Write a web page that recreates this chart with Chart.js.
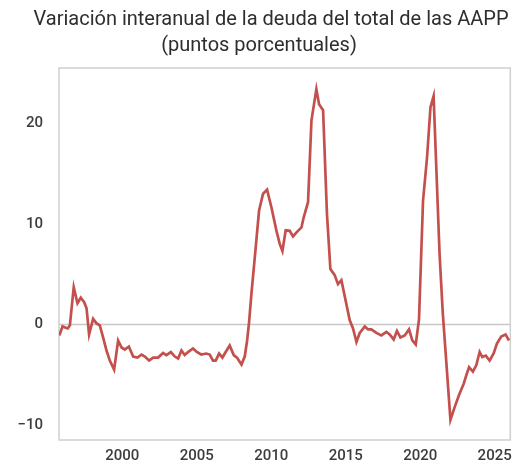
<!DOCTYPE html>
<html>
<head>
<meta charset="utf-8">
<script src="https://cdn.jsdelivr.net/npm/chart.js@4/dist/chart.umd.min.js"></script>
<style>
html,body{margin:0;padding:0;background:#fff;}
#wrap{width:519px;height:468px;position:relative;}
</style>
</head>
<body>
<div id="wrap"><canvas id="c" width="519" height="468"></canvas></div>
<script>
const titleLines = ["Variación interanual de la deuda del total de las AAPP", "(puntos porcentuales)"];
const years = [1995.77,1995.99,1996.16,1996.34,1996.48,1996.74,1996.99,1997.21,1997.44,1997.60,1997.77,1998.04,1998.27,1998.49,1998.71,1998.94,1999.16,1999.45,1999.72,1999.95,2000.17,2000.44,2000.73,2001.02,2001.29,2001.51,2001.80,2002.07,2002.40,2002.74,2002.96,2003.26,2003.53,2003.75,2003.97,2004.19,2004.41,2004.75,2005.00,2005.30,2005.63,2005.87,2006.09,2006.27,2006.50,2006.72,2006.94,2007.21,2007.48,2007.70,2008.00,2008.22,2008.38,2008.51,2008.67,2008.96,2009.18,2009.45,2009.72,2010.01,2010.35,2010.57,2010.75,2010.97,2011.24,2011.46,2011.73,2012.03,2012.18,2012.47,2012.70,2013.03,2013.21,2013.48,2013.74,2013.97,2014.26,2014.48,2014.71,2015.27,2015.49,2015.72,2015.94,2016.28,2016.50,2016.72,2017.06,2017.39,2017.73,2017.95,2018.22,2018.44,2018.67,2018.96,2019.25,2019.47,2019.70,2019.92,2020.19,2020.46,2020.69,2020.90,2021.30,2021.52,2021.76,2022.03,2022.32,2022.60,2022.92,2023.10,2023.28,2023.54,2023.77,2023.99,2024.17,2024.40,2024.66,2024.93,2025.15,2025.44,2025.73,2025.96];
const values = [-1.1,-0.2,-0.3,-0.4,-0.1,3.7,2.1,2.65,2.2,1.6,-1.0,0.55,0.1,-0.1,-1.3,-2.6,-3.6,-4.5,-1.6,-2.3,-2.5,-2.2,-3.2,-3.3,-3.0,-3.2,-3.6,-3.3,-3.3,-2.85,-3.05,-2.75,-3.2,-3.4,-2.6,-3.05,-2.75,-2.4,-2.75,-3.0,-2.9,-3.0,-3.6,-3.6,-2.9,-3.3,-2.75,-2.1,-3.05,-3.3,-4.0,-3.2,-1.6,0.2,3.05,7.7,11.3,13.0,13.4,11.65,9.3,8.0,7.3,9.35,9.3,8.75,9.2,9.65,10.65,12.15,20.3,23.4,21.9,21.3,11.0,5.5,4.9,4.0,4.4,0.4,-0.4,-1.75,-0.85,-0.2,-0.5,-0.5,-0.85,-1.1,-0.75,-1.0,-1.5,-0.65,-1.3,-1.1,-0.5,-1.6,-2.0,0.5,12.3,16.6,21.6,22.7,7.0,1.05,-3.9,-9.5,-8.2,-7.05,-5.9,-5.05,-4.25,-4.7,-4.05,-2.75,-3.25,-3.1,-3.6,-2.9,-1.9,-1.2,-1.0,-1.6];
const xTicks = [2000, 2005, 2010, 2015, 2020, 2025];
const yTicks = [-10, 0, 10, 20];

const points = years.map((y, i) => ({x: y, y: values[i]}));

const framePlugin = {
  id: 'frame',
  beforeDatasetsDraw(chart) {
    const {ctx, chartArea: a, scales} = chart;
    ctx.save();
    const y0 = scales.y.getPixelForValue(0);
    ctx.strokeStyle = '#c8c8c8';
    ctx.lineWidth = 1.5;
    ctx.beginPath();
    ctx.moveTo(a.left, y0);
    ctx.lineTo(a.right, y0);
    ctx.stroke();
    ctx.strokeStyle = '#cfcfcf';
    ctx.lineWidth = 1.5;
    ctx.strokeRect(a.left, a.top, a.right - a.left, a.bottom - a.top);
    ctx.restore();
  }
};

const titlePlugin = {
  id: 'twoLineTitle',
  afterDraw(chart) {
    const ctx = chart.ctx;
    ctx.save();
    ctx.fillStyle = '#2e2e2e';
    ctx.font = '20px Roboto';
    ctx.textAlign = 'center';
    ctx.textBaseline = 'alphabetic';
    ctx.fillText(titleLines[0], 271, 25);
    ctx.fillText(titleLines[1], 259, 51);
    ctx.restore();
  }
};

new Chart(document.getElementById('c'), {
  type: 'line',
  data: {
    datasets: [{
      data: points,
      borderColor: '#c4504d',
      borderWidth: 2.7,
      pointRadius: 0,
      tension: 0,
      fill: false
    }]
  },
  options: {
    responsive: false,
    animation: false,
    layout: {padding: {left: 0, right: 8, top: 68, bottom: 0}},
    plugins: {
      legend: {display: false},
      tooltip: {enabled: false},
      title: {display: false}
    },
    scales: {
      x: {
        type: 'linear',
        min: 1995.75,
        max: 2026.05,
        afterBuildTicks(scale) { scale.ticks = xTicks.map(v => ({value: v})); },
        afterFit(scale) { scale.height = 28; },
        grid: {display: false, drawTicks: false},
        border: {display: false},
        ticks: {
          color: '#3c3c3c',
          font: {family: 'Roboto', size: 15, weight: '500'},
          padding: 7,
          maxRotation: 0,
          callback: v => String(v)
        }
      },
      y: {
        min: -11.5,
        max: 25.5,
        afterBuildTicks(scale) { scale.ticks = yTicks.map(v => ({value: v})); },
        afterFit(scale) { scale.width = 59; },
        grid: {display: false, drawTicks: false},
        border: {display: false},
        ticks: {
          color: '#3c3c3c',
          font: {family: 'Roboto', size: 15, weight: '500'},
          padding: 16,
          callback: v => (v < 0 ? '\u2212' + Math.abs(v) : String(v))
        }
      }
    }
  },
  plugins: [framePlugin, titlePlugin]
});
</script>
</body>
</html>
